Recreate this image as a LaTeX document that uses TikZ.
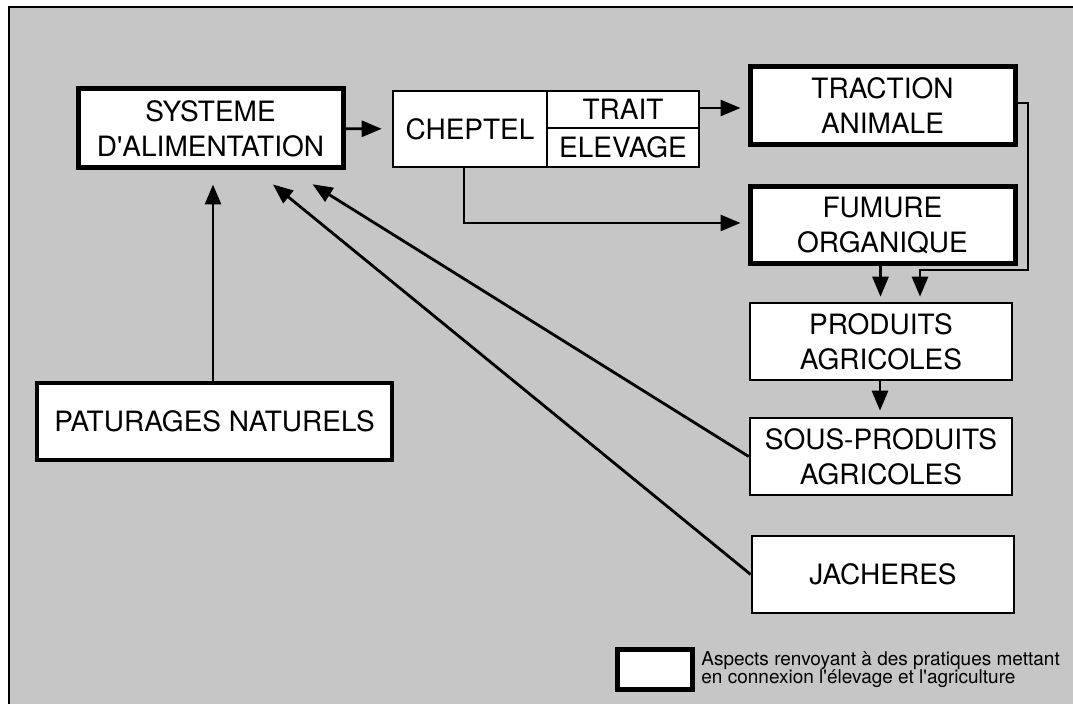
\documentclass[tikz,border=0pt]{standalone}
\usepackage{fontspec}
\setmainfont{TeX Gyre Heros}
\usepackage{tikz}
\usetikzlibrary{arrows.meta}
\definecolor{Screen}{RGB}{198,198,198}

\begin{document}
\begin{tikzpicture}[x=0.5pt, y=-0.5pt]
			\tikzstyle{Box}		= [rectangle, draw, fill=white, inner sep=0pt, align=center, font=\fontsize{14}{17.5}\selectfont]
			\tikzstyle{Thin}	= [line width=1.3pt]
			\tikzstyle{Medium}	= [line width=1.8pt]
			\tikzstyle{Thick}	= [line width=2.5pt]
			\tikzstyle{Link}	= [line width=1.4pt, -{Triangle[length=10pt, width=8pt]}]
			
			\useasboundingbox (0,0) rectangle (1073,704);
			\clip (0,0) rectangle (1073,704);
			\fill [white] (0,0) rectangle (1073,704);
			\fill [Screen] (9,7) rectangle (1090,720);
			\draw [line width=1.2pt] (9,720) -- (9,7) -- (1090,7);
			
			\node (sys) at (210.5, 128.5) [Box, Thick, minimum width=132.5pt, minimum height=39.5pt] {SYSTEME\\D\textquotesingle ALIMENTATION};
			\node (chep) at (470, 129) [Box, Thin, minimum width=77pt, minimum height=38pt] {CHEPTEL};
			\node (trait) at (623, 109.5) [Box, Thin, minimum width=76pt, minimum height=18.5pt] {TRAIT};
			\node (elev) at (623, 147.5) [Box, Thin, minimum width=76pt, minimum height=19.5pt] {ELEVAGE};
			\node (trac) at (882.5, 106) [Box, Thick, minimum width=132.5pt, minimum height=39pt] {TRACTION\\ANIMALE};
			\node (fum) at (882.5, 225.5) [Box, Thick, minimum width=132.5pt, minimum height=38.5pt] {FUMURE\\ORGANIQUE};
			\node (prod) at (881, 341.5) [Box, Thin, minimum width=131pt, minimum height=38.5pt] {PRODUITS\\AGRICOLES};
			\node (sous) at (881, 456.5) [Box, Thin, minimum width=131pt, minimum height=38.5pt] {SOUS-PRODUITS\\AGRICOLES};
			\node (jach) at (883, 574.5) [Box, Thin, minimum width=131pt, minimum height=38.5pt] {JACHERES};
			\node (pat) at (214.5, 421.5) [Box, Medium, minimum width=177.5pt, minimum height=38.5pt] {PATURAGES NATURELS};
			
			\coordinate (turn) at (1028, 270);
			
			\draw [Link, shorten >=5pt] (sys) -- (chep);
			\draw [Link, shorten >=3.5pt] ([yshift=0.75pt]trait.east) -- ([yshift=0.75pt]trait.east -| trac.west);
			\draw [Link, shorten >=3.5pt] ([xshift=-3pt]chep.south) |- ([yshift=1.25pt]fum.west);
			\draw [Link, shorten >=2.5pt] ([yshift=1.5pt]trac.east) -| (turn) -| ([xshift=19.5pt]prod.north);
			\draw [Link, shorten >=2.5pt] ([xshift=-1pt]fum.south) -- ([xshift=-1pt]fum.south |- prod.north);
			\draw [Link, shorten >=3pt] ([xshift=-0.5pt]prod.south) -- ([xshift=-0.5pt]sous.north);
			\draw [Link, shorten >=7pt] ([xshift=-0.75pt]pat.north) -- ([xshift=-0.75pt]pat.north |- sys.south);
			\draw [Link, shorten >=13pt] (sous.west) -- ([xshift=40pt]sys.south);
			\draw [Link, shorten >=11pt] (jach.west) -- ([xshift=22.7pt]sys.south);
			
			\node (key) at (654.5, 670) [Box, Thick, minimum width=37.5pt, minimum height=20pt] {};
			\node (keytext) at (701, 670) [anchor=west, align=left, inner sep=0pt, font=\fontsize{9.5}{9}\selectfont] {Aspects renvoyant à des pratiques mettant\\en connexion l\textquotesingle élevage et l\textquotesingle agriculture};
		\end{tikzpicture}
\end{document}
